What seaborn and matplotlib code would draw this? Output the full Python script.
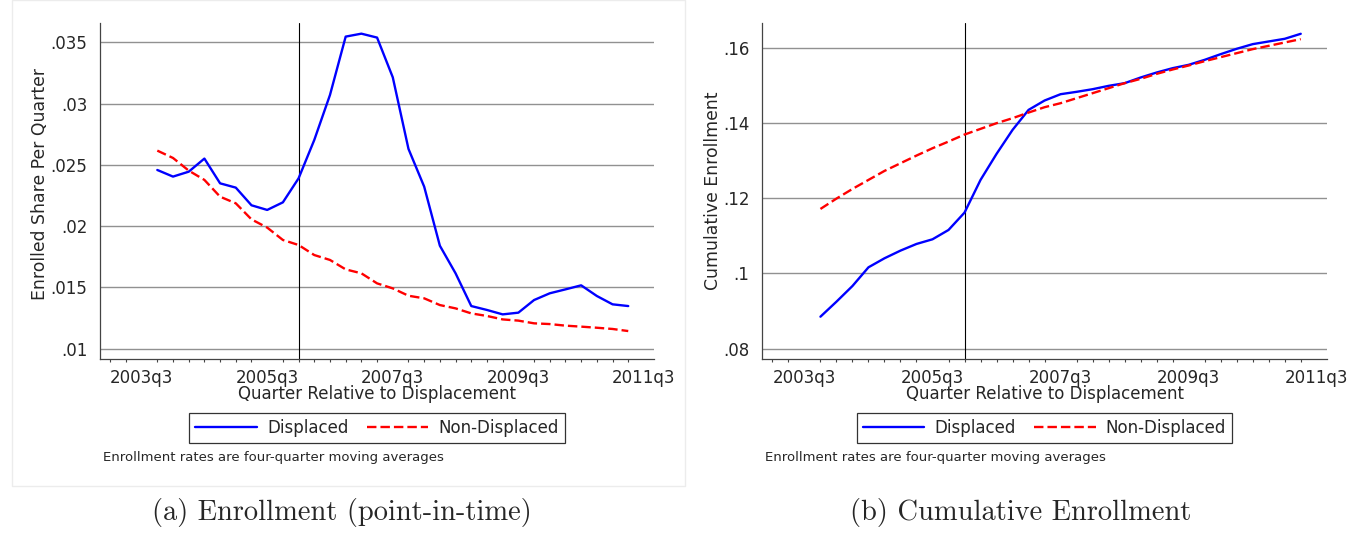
import numpy as np
import pandas as pd
import matplotlib
matplotlib.use("Agg")
import matplotlib.pyplot as plt
import matplotlib.patches as patches
from matplotlib.ticker import FixedLocator, FuncFormatter
import seaborn as sns

# quarters shown on both panels
quarters = ['2003q4', '2004q1', '2004q2', '2004q3', '2004q4', '2005q1', '2005q2',
            '2005q3', '2005q4', '2006q1', '2006q2', '2006q3', '2006q4', '2007q1',
            '2007q2', '2007q3', '2007q4', '2008q1', '2008q2', '2008q3', '2008q4',
            '2009q1', '2009q2', '2009q3', '2009q4', '2010q1', '2010q2', '2010q3',
            '2010q4', '2011q1', '2011q2']
tick_labels = ['2003q3', '2005q3', '2007q3', '2009q3', '2011q3']
displacement_q = '2006q1'

# panel (a): enrolled share per quarter
enroll_displaced = [.02458, .02404, .02444, .02551, .02349, .02314, .0217, .02132,
                    .02194, .0239, .02703, .0307, .03546, .0357, .03538, .03214,
                    .0263, .02322, .0184, .01615, .01348, .01316, .0128, .01294,
                    .01397, .01452, .01484, .01517, .0143, .01362, .01348]
enroll_nondisplaced = [.02616, .02556, .02453, .02377, .0224, .02186, .02055, .01988,
                       .01887, .01846, .01764, .01724, .01647, .01615, .01533, .01492,
                       .01432, .01411, .01356, .01329, .01288, .01267, .01239, .01229,
                       .01207, .01201, .01188, .0118, .01171, .01161, .01144]
enroll_yticks = [.01, .015, .02, .025, .03, .035]

# panel (b): cumulative enrollment
cum_displaced = [.08851, .0925, .09667, .10164, .10404, .10608, .10785, .10909,
                 .11157, .11619, .12488, .1318, .13818, .1435, .14599, .14767,
                 .1483, .149, .14989, .1506, .15211, .15344, .15459, .15548,
                 .15681, .15832, .15974, .16098, .16169, .1624, .16373]
cum_nondisplaced = [.11716, .11991, .12248, .12488, .12727, .12931, .13135, .1333,
                    .13508, .13694, .13845, .13996, .14129, .14279, .14421, .14528,
                    .14661, .14794, .14927, .1506, .15175, .15308, .15424, .1553,
                    .15645, .15752, .15858, .15965, .16053, .16142, .16231]
cum_yticks = [.08, .1, .12, .14, .16]

note = 'Enrollment rates are four-quarter moving averages'


def qnum(s):
    # quarter string -> number of quarters since 2003q3
    y, q = s.split('q')
    return (int(y) - 2003) * 4 + int(q) - 3


def stata_fmt(v, pos=None):
    s = ('%.3f' % v).rstrip('0').rstrip('.')
    return s[1:] if s.startswith('0') else s


sns.set_style('white')
plt.rcParams['font.family'] = ['DejaVu Sans']

W, H = 1364, 533
fig = plt.figure(figsize=(W / 100, H / 100), dpi=100)

# faint frame around the left graph
fig.patches.append(patches.Rectangle((12 / W, 1 - 486 / H), 673 / W, 486 / H,
                                     transform=fig.transFigure, fill=False,
                                     edgecolor='#ececec', lw=1))

x = [qnum(q) for q in quarters]
xticks = [qnum(t) for t in tick_labels]

panels = [
    dict(left=100, right=654, disp=enroll_displaced, non=enroll_nondisplaced,
         yticks=enroll_yticks, ylim=(.00916, .03657), label_y=0.52,
         ylabel='Enrolled Share Per Quarter',
         caption='(a) Enrollment (point-in-time)', cap_x=342),
    dict(left=762, right=1327, disp=cum_displaced, non=cum_nondisplaced,
         yticks=cum_yticks, ylim=(.07726, .1666), label_y=0.5,
         ylabel='Cumulative Enrollment',
         caption='(b) Cumulative Enrollment', cap_x=1021),
]

top, bottom = 23, 359
for p in panels:
    ax = fig.add_axes([p['left'] / W, 1 - bottom / H,
                       (p['right'] - p['left']) / W, (bottom - top) / H])
    df = pd.DataFrame({'q': x + x,
                       'v': p['disp'] + p['non'],
                       'grp': ['Displaced'] * len(x) + ['Non-Displaced'] * len(x)})
    sns.lineplot(data=df, x='q', y='v', hue='grp', style='grp',
                 palette={'Displaced': '#0000ff', 'Non-Displaced': '#ff0000'},
                 dashes={'Displaced': '', 'Non-Displaced': (4, 1.7)},
                 lw=1.7, ax=ax, legend=True)

    for yv in p['yticks']:
        ax.axhline(yv, color='#919191', lw=1, zorder=0)
    ax.axvline(qnum(displacement_q), color='black', lw=0.8, zorder=1)

    ax.set_xlim(-2.65, 32.64)
    ax.set_ylim(*p['ylim'])
    ax.set_xticks(xticks)
    ax.set_xticklabels(tick_labels)
    ax.xaxis.set_minor_locator(FixedLocator(list(range(-2, 33))))
    ax.set_yticks(p['yticks'])
    ax.yaxis.set_major_formatter(FuncFormatter(stata_fmt))
    ax.tick_params(axis='both', which='major', direction='out', length=4,
                   width=0.9, color='#444444', labelsize=12)
    ax.tick_params(axis='x', which='major', pad=3)
    ax.tick_params(axis='y', which='major', pad=5)
    ax.tick_params(axis='x', which='minor', direction='out', length=2.2,
                   width=0.8, color='#444444', bottom=True)
    for side in ['top', 'right']:
        ax.spines[side].set_visible(False)
    for side in ['left', 'bottom']:
        ax.spines[side].set_color('#444444')
        ax.spines[side].set_linewidth(0.9)

    ax.set_xlabel('Quarter Relative to Displacement', fontsize=12, labelpad=-1)
    ax.set_ylabel(p['ylabel'], fontsize=12.4, labelpad=1)
    ax.yaxis.label.set_y(p['label_y'])

    handles, labels = ax.get_legend_handles_labels()
    cx = (p['left'] + p['right']) / 2 / W
    leg = ax.legend(handles, labels, loc='upper center',
                    bbox_to_anchor=(cx, 1 - 413 / H), bbox_transform=fig.transFigure,
                    ncol=2, fontsize=12, frameon=True, fancybox=False,
                    edgecolor='black', handlelength=3.7, handletextpad=0.6,
                    columnspacing=1.1, borderpad=0.35, borderaxespad=0)
    leg.get_frame().set_linewidth(0.9)
    for h in leg.get_lines():
        h.set_linewidth(1.7)

    fig.text((p['left'] + 3) / W, 1 - 457 / H, note, fontsize=9.5, va='center',
             ha='left')
    fig.text(p['cap_x'] / W, 1 - 520 / H, p['caption'], fontsize=20.5,
             family='cmr10', ha='center', va='baseline')

fig.savefig('out.png', dpi=100)
